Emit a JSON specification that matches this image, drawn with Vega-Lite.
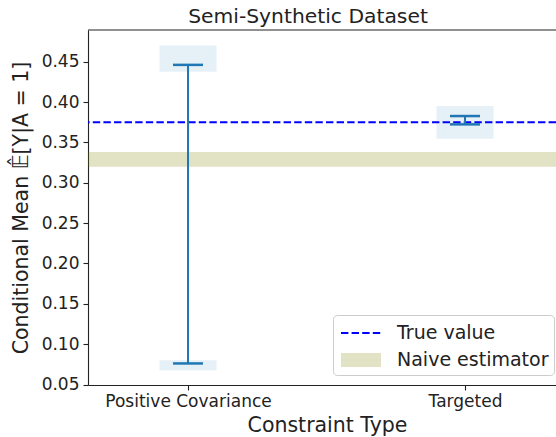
{
  "$schema": "https://vega.github.io/schema/vega-lite/v6.json",
  "width": 468,
  "height": 355,
  "autosize": {"type": "none"},
  "padding": {"left": 88, "top": 30, "right": 0, "bottom": 52},
  "background": "white",
  "config": {
    "font": "DejaVu Sans",
    "view": {"stroke": null},
    "axis": {"grid": false, "domainColor": "#222", "domainWidth": 1.1, "tickColor": "#222", "tickWidth": 1.1, "tickSize": 5, "labelColor": "#222", "titleColor": "#222", "labelFont": "DejaVu Sans", "titleFont": "DejaVu Sans", "titleFontWeight": "normal"}
  },
  "title": {"text": "Semi-Synthetic Dataset", "fontSize": 20.3, "fontWeight": "normal", "color": "#222", "font": "DejaVu Sans", "baseline": "alphabetic", "offset": 6, "dy": 20, "dx": -14},
  "datasets": {
    "naive": [{"series": "Naive estimator", "lo": 0.3197, "hi": 0.338}],
    "truth": [{"series": "True value", "value": 0.375}],
    "frame": [{"top": 0.4892}],
    "boxes": [
      {"constraint": "Positive Covariance", "lo": 0.4376, "hi": 0.47},
      {"constraint": "Positive Covariance", "lo": 0.0678, "hi": 0.0802},
      {"constraint": "Targeted", "lo": 0.3545, "hi": 0.395}
    ],
    "bars": [
      {"constraint": "Positive Covariance", "lower": 0.0761, "upper": 0.446},
      {"constraint": "Targeted", "lower": 0.3723, "upper": 0.3826}
    ]
  },
  "layer": [
    {
      "data": {"name": "naive"},
      "mark": {"type": "rect", "fillOpacity": 0.23},
      "encoding": {
        "y": {"field": "lo", "type": "quantitative",
          "scale": {"domain": [0.0494, 0.4892], "nice": false, "zero": false},
          "axis": {"title": "Conditional Mean 𝔼̂[Y|A = 1]", "titleFontSize": 20.5, "labelFontSize": 17, "values": [0.05, 0.1, 0.15, 0.2, 0.25, 0.3, 0.35, 0.4, 0.45], "format": ".2f", "labelPadding": 4, "titlePadding": 10}},
        "y2": {"field": "hi"},
        "color": {"field": "series", "type": "nominal",
          "scale": {"domain": ["True value", "Naive estimator"], "range": ["#0000ff", "#808000"]},
          "legend": {
            "title": null, "orient": "none", "legendX": 245, "legendY": 285,
            "fillColor": "rgba(255,255,255,0.8)", "strokeColor": "#cccccc", "cornerRadius": 4,
            "padding": 5, "rowPadding": 4, "symbolSize": 576, "symbolOffset": 10, "labelOffset": 23,
            "labelFontSize": 19, "labelColor": "#222", "labelFont": "DejaVu Sans",
            "encode": {"symbols": {"update": {
              "shape": {"signal": "datum.value === 'True value' ? 'M-1.667,0L1.667,0' : 'M-1.667,-0.583L1.667,-0.583L1.667,0.583L-1.667,0.583Z'"},
              "fill": {"signal": "datum.value === 'True value' ? 'transparent' : '#808000'"},
              "fillOpacity": {"signal": "datum.value === 'True value' ? 0 : 0.23"},
              "stroke": {"signal": "datum.value === 'True value' ? '#0000ff' : '#808000'"},
              "strokeOpacity": {"signal": "datum.value === 'True value' ? 1 : 0"},
              "strokeDash": {"signal": "datum.value === 'True value' ? [7.4, 3.2] : [1, 0]"},
              "strokeWidth": {"value": 2},
              "opacity": {"value": 1}
            }}}
          }
        }
      }
    },
    {
      "data": {"name": "boxes"},
      "mark": {"type": "bar", "width": 57, "color": "#1f77b4", "opacity": 0.11},
      "encoding": {
        "x": {
          "field": "constraint", "type": "nominal",
          "scale": {"type": "point", "padding": 0.3448, "align": 0.5236, "domain": ["Positive Covariance", "Targeted"]},
          "axis": {"title": "Constraint Type", "titleFontSize": 20.5, "labelFontSize": 17, "labelAngle": 0, "labelPadding": 3, "titlePadding": 6, "titleX": 239}
        },
        "y": {"field": "lo", "type": "quantitative"},
        "y2": {"field": "hi"}
      }
    },
    {
      "data": {"name": "truth"},
      "mark": {"type": "rule", "strokeWidth": 2, "strokeDash": [7.4, 3.2]},
      "encoding": {
        "y": {"field": "value", "type": "quantitative"},
        "color": {"field": "series", "type": "nominal"}
      }
    },
    {
      "data": {"name": "bars"},
      "mark": {"type": "rule", "color": "#1f77b4", "strokeWidth": 2},
      "encoding": {
        "x": {"field": "constraint", "type": "nominal"},
        "y": {"field": "lower", "type": "quantitative"},
        "y2": {"field": "upper"}
      }
    },
    {
      "data": {"name": "bars"},
      "mark": {"type": "tick", "color": "#1f77b4", "size": 30, "thickness": 2.5, "opacity": 1},
      "encoding": {
        "x": {"field": "constraint", "type": "nominal"},
        "y": {"field": "upper", "type": "quantitative"}
      }
    },
    {
      "data": {"name": "bars"},
      "mark": {"type": "tick", "color": "#1f77b4", "size": 30, "thickness": 2.5, "opacity": 1},
      "encoding": {
        "x": {"field": "constraint", "type": "nominal"},
        "y": {"field": "lower", "type": "quantitative"}
      }
    },
    {
      "data": {"name": "frame"},
      "mark": {"type": "rule", "color": "#222", "strokeWidth": 1.1},
      "encoding": {
        "y": {"field": "top", "type": "quantitative"}
      }
    }
  ]
}
